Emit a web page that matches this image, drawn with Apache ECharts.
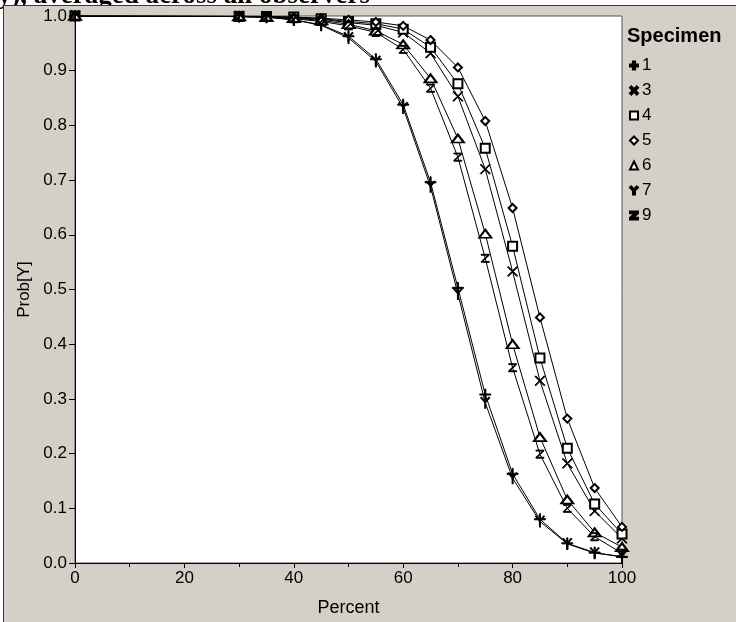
<!DOCTYPE html>
<html>
<head>
<meta charset="utf-8">
<script src="https://cdn.jsdelivr.net/npm/echarts@6/dist/echarts.min.js"></script>
<style>html,body{margin:0;padding:0;background:#fff}#c{width:736px;height:622px}</style>
</head>
<body>
<div id="c"></div>
<script>
const percent = [0, 30, 35, 40, 45, 50, 55, 60, 65, 70, 75, 80, 85, 90, 95, 100];
const specimenNames = ['1', '3', '4', '5', '6', '7', '9'];
const spec1 = [1.0, 0.999, 0.998, 0.993, 0.984, 0.963, 0.921, 0.838, 0.696, 0.503, 0.308, 0.163, 0.080, 0.036, 0.019, 0.011];
const spec3 = [1.0, 0.999, 0.999, 0.997, 0.994, 0.988, 0.983, 0.970, 0.932, 0.853, 0.720, 0.533, 0.333, 0.182, 0.095, 0.045];
const spec4 = [1.0, 0.999, 0.999, 0.998, 0.995, 0.990, 0.986, 0.976, 0.943, 0.876, 0.758, 0.579, 0.375, 0.210, 0.108, 0.053];
const spec5 = [1.0, 1.0, 0.999, 0.998, 0.996, 0.993, 0.989, 0.982, 0.956, 0.906, 0.808, 0.649, 0.449, 0.264, 0.137, 0.066];
const spec6 = [1.0, 0.999, 0.998, 0.996, 0.992, 0.985, 0.973, 0.948, 0.886, 0.776, 0.602, 0.400, 0.230, 0.116, 0.056, 0.029];
const spec7 = [1.0, 0.999, 0.998, 0.993, 0.983, 0.960, 0.917, 0.832, 0.688, 0.492, 0.293, 0.155, 0.076, 0.035, 0.018, 0.012];
const spec9 = [1.0, 0.999, 0.998, 0.995, 0.990, 0.982, 0.970, 0.939, 0.868, 0.742, 0.557, 0.357, 0.199, 0.100, 0.048, 0.018];
const yTicks = [0, 0.1, 0.2, 0.3, 0.4, 0.5, 0.6, 0.7, 0.8, 0.9, 1.0];
const xTicks = [0, 20, 40, 60, 80, 100];

// thin marker paths (plot)
const symPlus = 'path://M4.5,0H5.5V4.5H10V5.5H5.5V10H4.5V5.5H0V4.5H4.5Z';
const symX = 'path://M0,0.7L0.7,0L5,4.3L9.3,0L10,0.7L5.7,5L10,9.3L9.3,10L5,5.7L0.7,10L0,9.3L4.3,5Z';
const symY = 'path://M0,0.6L0.9,0L5,4.6L9.1,0L10,0.6L5.6,5.5V12H4.4V5.5Z';
const symZ = 'path://M0,0H10V1.1L1.6,8.9H10V10H0V8.9L8.4,1.1H0Z';
// bold marker paths (legend)
const legPlus = 'path://M3.6,0H6.4V3.6H10V6.4H6.4V10H3.6V6.4H0V3.6H3.6Z';
const legX = 'path://M0,1.6L1.6,0L5,3.4L8.4,0L10,1.6L6.6,5L10,8.4L8.4,10L5,6.6L1.6,10L0,8.4L3.4,5Z';
const legY = 'path://M0,1.4L1.6,0L5,3.6L8.4,0L10,1.4L6.3,5.2V10H3.7V5.2Z';
const legZ = 'path://M0,0H10V2.2L3.6,7.8H10V10H0V7.8L6.4,2.2H0Z';

const seriesData = [spec1, spec3, spec4, spec5, spec6, spec7, spec9];
const symbols = [symPlus, symX, 'emptyRect', 'emptyDiamond', 'emptyTriangle', symY, symZ];
const symSizes = [11, 10, 9, 8, [12, 8], [9, 11], [8, 8]];
const legendIcons = [legPlus, legX, 'emptyRect', 'emptyDiamond', 'emptyTriangle', legY, legZ];

const FONT = 'Liberation Sans, Arial, sans-serif';

const series = seriesData.map((vals, i) => ({
  name: specimenNames[i],
  type: 'line',
  data: percent.map((p, k) => [p, vals[k]]),
  symbol: symbols[i],
  symbolSize: symSizes[i],
  symbolKeepAspect: false,
  showAllSymbol: true,
  lineStyle: { color: '#000', width: 1 },
  itemStyle: { color: '#000', borderColor: '#000', borderWidth: (symbols[i] === 'emptyDiamond') ? 2.5 : 1 },
  emphasis: { disabled: true },
  animation: false
}));

const chart = echarts.init(document.getElementById('c'), null, { renderer: 'canvas' });
chart.setOption({
  backgroundColor: '#ffffff',
  animation: false,
  graphic: [
    { type: 'text', z: -20, x: 370, y: 10,
      style: { text: 'ity), averaged across all observers', font: 'bold 27px "Liberation Serif", "Times New Roman", serif',
               fill: '#000', align: 'right', verticalAlign: 'bottom' } },
    { type: 'rect', z: -10, shape: { x: 3.5, y: 5.5, width: 800, height: 700 },
      style: { fill: '#d4d0c8', stroke: '#3a3a3a', lineWidth: 1 } },
    { type: 'text', x: 627, y: 26,
      style: { text: 'Specimen', font: 'bold 20px ' + FONT, fill: '#000' } }
  ],
  grid: { left: 75, top: 16, right: 114, bottom: 59, show: true, backgroundColor: '#ffffff', borderColor: '#555', borderWidth: 1 },
  legend: {
    orient: 'vertical', left: 624, top: 52, itemWidth: 8, itemHeight: 8, itemGap: 8,
    textStyle: { fontFamily: FONT, fontSize: 17, color: '#000', lineHeight: 17, padding: [0, 0, 0, -1] },
    data: specimenNames.map((n, i) => ({ name: n, icon: legendIcons[i], itemStyle: { borderWidth: 2 } })),
    selectedMode: false
  },
  xAxis: {
    type: 'value', min: 0, max: 100, interval: 20,
    name: 'Percent', nameLocation: 'middle', nameGap: 36,
    nameTextStyle: { fontFamily: FONT, fontSize: 18, color: '#000' },
    axisLine: { show: true, lineStyle: { color: '#000', width: 1 } },
    axisTick: { show: true, length: 5, lineStyle: { color: '#000' } },
    minorTick: { show: true, splitNumber: 2, length: 4, lineStyle: { color: '#000' } },
    axisLabel: { fontFamily: FONT, fontSize: 17, color: '#000', margin: 7,
      formatter: v => xTicks.includes(v) ? String(v) : '' },
    splitLine: { show: false }
  },
  yAxis: {
    type: 'value', min: 0, max: 1, interval: 0.1,
    name: 'Prob[Y]', nameLocation: 'middle', nameGap: 41,
    nameTextStyle: { fontFamily: FONT, fontSize: 17, color: '#000' },
    axisLine: { show: true, lineStyle: { color: '#000', width: 1 } },
    axisTick: { show: true, length: 6, lineStyle: { color: '#000' } },
    axisLabel: { fontFamily: FONT, fontSize: 17, color: '#000', margin: 8,
      formatter: v => { const t = yTicks.find(y => Math.abs(y - v) < 1e-9); return t === undefined ? '' : t.toFixed(1); } },
    splitLine: { show: false }
  },
  series: series
});
</script>
</body>
</html>
